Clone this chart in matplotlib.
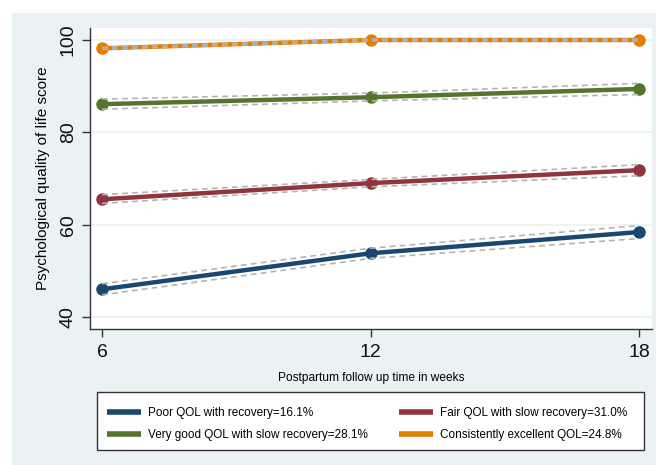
import matplotlib
matplotlib.use("Agg")
import matplotlib.pyplot as plt
from matplotlib.patches import Rectangle

plt.rcParams['font.family'] = ['Liberation Sans', 'DejaVu Sans']

weeks = [6, 12, 18]

labels = [
    "Poor QOL with recovery=16.1%",
    "Fair QOL with slow recovery=31.0%",
    "Very good QOL with slow recovery=28.1%",
    "Consistently excellent QOL=24.8%",
]
colors = ["#1a476f", "#90353b", "#55752f", "#e37e00"]

poor = [46.0, 53.8, 58.4]
poor_lo = [44.8, 52.7, 57.0]
poor_hi = [47.2, 54.9, 59.8]

fair = [65.5, 69.0, 71.8]
fair_lo = [64.6, 68.2, 70.6]
fair_hi = [66.5, 69.8, 73.0]

verygood = [86.1, 87.6, 89.4]
verygood_lo = [85.0, 86.8, 88.2]
verygood_hi = [87.2, 88.5, 90.6]

excellent = [98.2, 100.0, 100.0]
excellent_lo = [98.0, 99.8, 99.8]
excellent_hi = [98.4, 100.2, 100.2]

series = [
    (poor, poor_lo, poor_hi),
    (fair, fair_lo, fair_hi),
    (verygood, verygood_lo, verygood_hi),
    (excellent, excellent_lo, excellent_hi),
]

W, H = 658, 465
fig = plt.figure(figsize=(W / 100, H / 100), dpi=100)
fig.patch.set_facecolor("white")
fig.patches.append(Rectangle((12 / W, 0), (656 - 12) / W, (H - 13) / H,
                             transform=fig.transFigure, facecolor="#eaf2f3",
                             edgecolor="none", zorder=-10))

ax = fig.add_axes([90 / W, (H - 329) / H, (652 - 90) / W, (329 - 28) / H])
ax.set_facecolor("white")

for (vals, lo, hi), c, lab in zip(series, colors, labels):
    ax.plot(weeks, vals, color=c, lw=3.2, marker="o", ms=8,
            solid_capstyle="butt", zorder=3, label=lab)
    ax.plot(weeks, lo, color="#b4b4b4", lw=1.2, ls=(0, (3.5, 2.5)), zorder=4)
    ax.plot(weeks, hi, color="#b4b4b4", lw=1.2, ls=(0, (3.5, 2.5)), zorder=4)

ax.set_xlim(5.73, 18.29)
ax.set_ylim(37.4, 102.6)
ax.set_xticks(weeks)
ax.set_yticks([40, 60, 80, 100])
for y in [40, 60, 80, 100]:
    ax.axhline(y, color="#eaf2f3", lw=1.2, zorder=1)

for s in ["top", "right"]:
    ax.spines[s].set_visible(False)
for s in ["left", "bottom"]:
    ax.spines[s].set_color("#333333")
    ax.spines[s].set_linewidth(1.0)

ax.tick_params(axis="both", direction="out", length=6, width=1.0,
               color="#333333", labelsize=14, labelcolor="#111111")
ax.tick_params(axis="x", pad=5)
ax.tick_params(axis="y", labelrotation=90)
for t in ax.get_yticklabels():
    t.set_va("center")

ax.set_xlabel("Postpartum follow up time in weeks", fontsize=8.6, labelpad=8)
ax.set_ylabel("Psychological quality of life score", fontsize=11, labelpad=7)

# legend box drawn separately so its size is fixed
box = (97 / W, (H - 450) / H, (644 - 97) / W, (450 - 392) / H)
fig.patches.append(Rectangle(box[:2], box[2], box[3], transform=fig.transFigure,
                             facecolor="white", edgecolor="#333333", lw=1.0, zorder=1))

# legend reads row by row: matplotlib fills columns first, so reorder
order = [0, 2, 1, 3]
leg_handles = [plt.Line2D([], [], color=colors[i], lw=4, solid_capstyle="butt") for i in order]
leg_labels = [labels[i] for i in order]
leg_area = (96 / W, (H - 456) / H, (638 - 96) / W, (456 - 392) / H)
leg = fig.legend(leg_handles, leg_labels, ncol=2, loc="center",
                 bbox_to_anchor=leg_area, mode="expand", fontsize=8.5, frameon=False,
                 handlelength=2.9, handletextpad=0.6, columnspacing=2.0,
                 borderpad=0.4, labelspacing=0.8)
leg.set_zorder(2)

fig.savefig("out.png", dpi=100)
